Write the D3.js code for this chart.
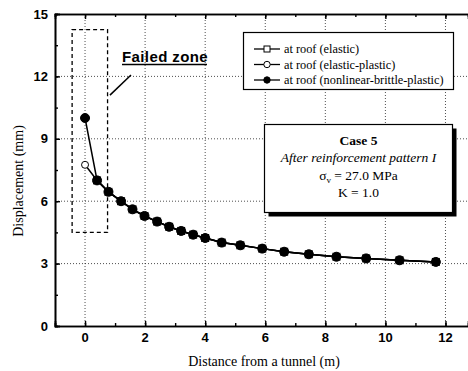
<!DOCTYPE html>
<html>
<head>
<meta charset="utf-8">
<script src="https://cdn.jsdelivr.net/npm/d3@7"></script>
<style>
  body { margin: 0; background: #fff; }
  svg { display: block; }
</style>
</head>
<body>
<svg id="chart" width="468" height="371"></svg>
<script>
// distance from tunnel (m)
const distance = [0, 0.4, 0.78, 1.2, 1.58, 1.98, 2.4, 2.8, 3.2, 3.6, 4.0, 4.55, 5.17, 5.9, 6.63, 7.45, 8.37, 9.36, 10.47, 11.68];
// displacement at roof (mm)
const elastic = [null, 7.0, 6.45, 6.0, 5.61, 5.29, 5.02, 4.77, 4.57, 4.39, 4.23, 4.01, 3.88, 3.72, 3.57, 3.45, 3.33, 3.25, 3.16, 3.08];
const elasticPlastic = [7.75, 7.0, 6.45, 6.0, 5.61, 5.29, 5.02, 4.77, 4.57, 4.39, 4.23, 4.01, 3.88, 3.72, 3.57, 3.45, 3.33, 3.25, 3.16, 3.08];
const brittlePlastic = [10.0, 7.0, 6.45, 6.0, 5.61, 5.29, 5.02, 4.77, 4.57, 4.39, 4.23, 4.01, 3.88, 3.72, 3.57, 3.45, 3.33, 3.25, 3.16, 3.08];

const xTicks = [0, 2, 4, 6, 8, 10, 12];
const yTicks = [0, 3, 6, 9, 12, 15];
const legendLabels = ['at roof (elastic)', 'at roof (elastic-plastic)', 'at roof (nonlinear-brittle-plastic)'];
const failedZone = { x0: -0.43, x1: 0.75, y0: 4.5, y1: 14.25 };

const svg = d3.select('#chart');
const plotL = 55, plotR = 468, plotT = 14, plotB = 326;
const serif = '"Liberation Serif", "Times New Roman", serif';
const sans = '"Liberation Sans", Arial, sans-serif';

const x = d3.scaleLinear().domain([-1, 12.75]).range([plotL, plotR]);
const y = d3.scaleLinear().domain([0, 15]).range([plotB, plotT]);

// dotted grid
const grid = svg.append('g').attr('stroke', '#222').attr('stroke-width', 0.8).attr('stroke-dasharray', '1,2');
grid.selectAll('.gx').data(xTicks).enter().append('line')
    .attr('x1', d => x(d)).attr('x2', d => x(d)).attr('y1', plotT).attr('y2', plotB);
grid.selectAll('.gy').data(yTicks.filter(d => d > 0 && d < 15)).enter().append('line')
    .attr('x1', plotL).attr('x2', plotR).attr('y1', d => y(d)).attr('y2', d => y(d));

// axes with inward ticks
const xMinor = d3.range(-1, 13, 1);
const yMinor = d3.range(0, 15.01, 1.5);
const axisG = svg.append('g');
axisG.append('g').attr('transform', `translate(0,${plotB})`)
    .call(d3.axisTop(x).tickValues(xMinor).tickSize(3).tickFormat(''));
axisG.append('g').attr('transform', `translate(0,${plotB})`)
    .call(d3.axisTop(x).tickValues(xTicks).tickSize(5).tickFormat(''));
axisG.append('g').attr('transform', `translate(0,${plotT})`)
    .call(d3.axisBottom(x).tickValues(xMinor).tickSize(3).tickFormat(''));
axisG.append('g').attr('transform', `translate(0,${plotT})`)
    .call(d3.axisBottom(x).tickValues(xTicks).tickSize(5).tickFormat(''));
axisG.append('g').attr('transform', `translate(${plotL},0)`)
    .call(d3.axisRight(y).tickValues(yMinor).tickSize(3).tickFormat(''));
axisG.append('g').attr('transform', `translate(${plotL},0)`)
    .call(d3.axisRight(y).tickValues(yTicks).tickSize(5).tickFormat(''));
axisG.selectAll('.domain').attr('stroke', '#000').attr('stroke-width', 1.6);
axisG.selectAll('.tick line').attr('stroke', '#000').attr('stroke-width', 1.4);

// tick labels
svg.selectAll('.xl').data(xTicks).enter().append('text')
    .attr('x', d => x(d)).attr('y', plotB + 16)
    .attr('text-anchor', 'middle')
    .style('font-family', sans).style('font-weight', 'bold').style('font-size', '13px')
    .text(d => d);
svg.selectAll('.yl').data(yTicks).enter().append('text')
    .attr('x', plotL - 7).attr('y', d => y(d) + 4.5)
    .attr('text-anchor', 'end')
    .style('font-family', sans).style('font-weight', 'bold').style('font-size', '13px')
    .text(d => d);

// axis titles
svg.append('text').attr('x', 264).attr('y', 366).attr('text-anchor', 'middle')
    .style('font-family', serif).style('font-size', '14px')
    .text('Distance from a tunnel (m)');
svg.append('text').attr('transform', 'translate(23,181) rotate(-90)').attr('text-anchor', 'middle')
    .style('font-family', serif).style('font-size', '14px')
    .text('Displacement (mm)');

// failed zone
svg.append('rect')
    .attr('x', x(failedZone.x0)).attr('y', y(failedZone.y1))
    .attr('width', x(failedZone.x1) - x(failedZone.x0))
    .attr('height', y(failedZone.y0) - y(failedZone.y1))
    .attr('fill', 'none').attr('stroke', '#000').attr('stroke-width', 1.3)
    .attr('stroke-dasharray', '4,3');
svg.append('line')
    .attr('x1', x(0.83)).attr('y1', y(11.1)).attr('x2', x(1.53)).attr('y2', y(12.07))
    .attr('stroke', '#000').attr('stroke-width', 1.5);
svg.append('text').attr('x', 122).attr('y', 62)
    .style('font-family', sans).style('font-weight', 'bold').style('font-size', '15px')
    .style('letter-spacing', '0.4px')
    .text('Failed zone');
svg.append('line').attr('x1', 122).attr('x2', 207).attr('y1', 64.5).attr('y2', 64.5)
    .attr('stroke', '#000').attr('stroke-width', 1.3);

// series
const series = [
    { values: elastic, shape: 'square', fill: '#fff' },
    { values: elasticPlastic, shape: 'circle', fill: '#fff' },
    { values: brittlePlastic, shape: 'circle', fill: '#000' }
];
const line = d3.line().x(d => x(d[0])).y(d => y(d[1]));

series.forEach(s => {
    const pts = distance.map((d, i) => [d, s.values[i]]).filter(p => p[1] != null);
    svg.append('path').datum(pts).attr('d', line)
        .attr('fill', 'none').attr('stroke', '#000').attr('stroke-width', 1.5);
    if (s.shape === 'square') {
        svg.selectAll(null).data(pts).enter().append('rect')
            .attr('x', d => x(d[0]) - 3.5).attr('y', d => y(d[1]) - 3.5)
            .attr('width', 7).attr('height', 7)
            .attr('fill', s.fill).attr('stroke', '#000').attr('stroke-width', 1);
    } else {
        svg.selectAll(null).data(pts).enter().append('circle')
            .attr('cx', d => x(d[0])).attr('cy', d => y(d[1]))
            .attr('r', s.fill === '#000' ? 4.5 : 3.5)
            .attr('fill', s.fill).attr('stroke', '#000').attr('stroke-width', 1);
    }
});

// legend
const legend = svg.append('g');
legend.append('rect').attr('x', 243.5).attr('y', 32.5).attr('width', 210).attr('height', 57)
    .attr('fill', '#fff').attr('stroke', '#000').attr('stroke-width', 1.2);
legendLabels.forEach((label, i) => {
    const cy = 49 + i * 15.5;
    legend.append('line').attr('x1', 254).attr('x2', 280).attr('y1', cy).attr('y2', cy)
        .attr('stroke', '#000').attr('stroke-width', 1.3);
    if (i === 0) {
        legend.append('rect').attr('x', 264).attr('y', cy - 3).attr('width', 6).attr('height', 6)
            .attr('fill', '#fff').attr('stroke', '#000');
    } else {
        legend.append('circle').attr('cx', 267).attr('cy', cy).attr('r', 3.2)
            .attr('fill', i === 2 ? '#000' : '#fff').attr('stroke', '#000');
    }
    legend.append('text').attr('x', 284).attr('y', cy + 4)
        .style('font-family', serif).style('font-size', '12.3px')
        .text(label);
});

// case box
const caseG = svg.append('g');
caseG.append('rect').attr('x', 268.5).attr('y', 128.5).attr('width', 188).attr('height', 88).attr('fill', '#000');
caseG.append('rect').attr('x', 264.5).attr('y', 124.5).attr('width', 188).attr('height', 88)
    .attr('fill', '#fff').attr('stroke', '#000').attr('stroke-width', 1.2);
const cx = 358.5;
caseG.append('text').attr('x', cx).attr('y', 145).attr('text-anchor', 'middle')
    .style('font-family', serif).style('font-size', '13.5px').style('font-weight', 'bold').text('Case 5');
caseG.append('text').attr('x', cx).attr('y', 162).attr('text-anchor', 'middle')
    .style('font-family', serif).style('font-size', '13.5px').style('font-style', 'italic')
    .text('After reinforcement pattern I');
const sig = caseG.append('text').attr('x', cx).attr('y', 180).attr('text-anchor', 'middle')
    .style('font-family', serif).style('font-size', '13.5px');
sig.append('tspan').text('σ');
sig.append('tspan').attr('dy', 3).style('font-size', '9px').text('v');
sig.append('tspan').attr('dy', -3).text(' = 27.0 MPa');
caseG.append('text').attr('x', cx).attr('y', 197).attr('text-anchor', 'middle')
    .style('font-family', serif).style('font-size', '13.5px').text('K = 1.0');
</script>
</body>
</html>
